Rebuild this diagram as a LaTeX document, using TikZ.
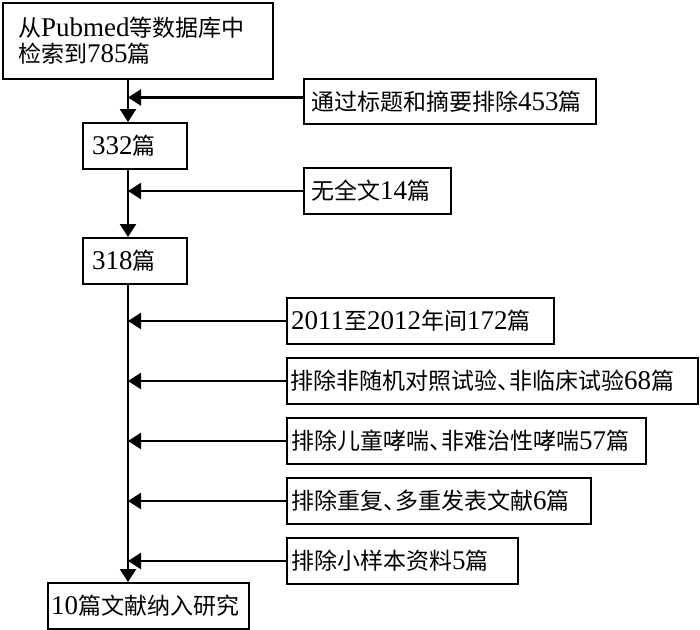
\documentclass[tikz,border=0pt]{standalone}
\usepackage{fontspec}
\setmainfont{Liberation Serif}
\newfontfamily\cjk{Noto Sans CJK SC}[Scale=0.852]
\usetikzlibrary{arrows.meta}
\newcommand{\zh}[1]{{\cjk #1}}
\newcommand{\dun}{\makebox[12pt][l]{\cjk 、}}
\tikzset{
  box/.style={draw, line width=2pt, rectangle, anchor=north west, align=left,
    inner ysep=0pt, font=\fontsize{27}{26}\selectfont},
  arr/.style={line width=2.4pt, -{Triangle[length=13pt,width=16pt]}},
}
\begin{document}
\begin{tikzpicture}[x=1pt,y=-1pt]
\useasboundingbox (0,0) rectangle (700,629);
\coordinate (L) at (128,0);
\node[box, inner xsep=15pt, text width=240pt, minimum height=76pt] (top) at (2,2)
  {\zh{从}Pubmed\zh{等数据库中}\\\zh{检索到}785\zh{篇}};
\node[box, inner xsep=9pt, text width=86pt, minimum height=46pt] (n332) at (82,122) {332\zh{篇}};
\node[box, inner xsep=9pt, text width=86pt, minimum height=46pt] (n318) at (82,237) {318\zh{篇}};
\node[box, inner xsep=3pt, text width=195pt, minimum height=46pt] (fin) at (47,582) {10\zh{篇文献纳入研究}};
\node[box, inner xsep=7pt, text width=278pt, minimum height=45pt] (e1) at (303,78) {\zh{通过标题和摘要排除}453\zh{篇}};
\node[box, inner xsep=7pt, text width=133pt, minimum height=46pt] (e2) at (303,167) {\zh{无全文}14\zh{篇}};
\node[box, inner xsep=4pt, text width=259pt, minimum height=46pt] (e3) at (286,297) {2011\zh{至}2012\zh{年间}172\zh{篇}};
\node[box, inner xsep=3pt, text width=405pt, minimum height=46pt] (e4) at (286,357) {\zh{排除非随机对照试验}\dun\zh{非临床试验}68\zh{篇}};
\node[box, inner xsep=4pt, text width=351pt, minimum height=46pt] (e5) at (286,417) {\zh{排除儿童哮喘}\dun\zh{非难治性哮喘}57\zh{篇}};
\node[box, inner xsep=4pt, text width=296pt, minimum height=46pt] (e6) at (286,477) {\zh{排除重复}\dun\zh{多重发表文献}6\zh{篇}};
\node[box, inner xsep=4pt, text width=223pt, minimum height=46pt] (e7) at (286,537) {\zh{排除小样本资料}5\zh{篇}};
\draw[arr] (top.south -| L) -- (n332.north -| L);
\draw[arr] (n332.south -| L) -- (n318.north -| L);
\draw[arr] (n318.south -| L) -- (fin.north -| L);
\draw[arr] ([yshift=4pt]e1.west) -- ([yshift=4pt]e1.west -| L);
\foreach \e in {e2,e3,e4,e5,e6,e7} \draw[arr] (\e.west) -- (\e.west -| L);
\end{tikzpicture}
\end{document}
